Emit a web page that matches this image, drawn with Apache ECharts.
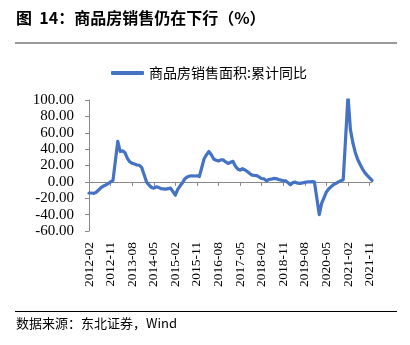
<!DOCTYPE html>
<html><head><meta charset="utf-8">
<script src="https://cdn.jsdelivr.net/npm/echarts@6/dist/echarts.min.js"></script>
<style>html,body{margin:0;padding:0;background:#fff}#c{width:410px;height:345px}</style>
</head><body><div id="c"></div>
<script>
// Monthly cumulative YoY (%) of commercial housing sales area; January has no release (null)
const v2012 = [-13.6, -13.6, -14.0, -12.6, -10.0, -7.0, -5.1, -3.8, -2.0, 0.0, 1.8]; // Feb-Dec
const v2013 = [null, 49.5, 37.1, 38.0, 35.6, 28.7, 24.6, 22.7, 21.8, 20.6, 20.3, 17.3];
const v2014 = [null, -0.1, -3.8, -6.6, -7.8, -6.0, -6.7, -8.3, -8.6, -8.9, -8.2, -7.6];
const v2015 = [null, -16.3, -9.2, -4.8, -1.0, 3.9, 6.1, 7.2, 7.5, 7.2, 7.4, 6.5];
const v2016 = [null, 28.2, 33.1, 37.1, 33.2, 27.9, 26.4, 25.5, 26.9, 26.8, 24.3, 22.5];
const v2017 = [null, 25.1, 19.5, 15.7, 14.3, 16.1, 14.7, 12.7, 10.3, 8.2, 7.9, 7.7];
const v2018 = [null, 4.1, 3.6, 1.3, 2.9, 3.3, 4.2, 4.0, 2.9, 2.2, 1.4, 1.3];
const v2019 = [null, -3.6, -0.9, -0.3, -1.6, -1.8, -1.3, -0.6, -0.1, 0.1, 0.2, -0.1];
const v2020 = [null, -39.9, -26.3, -19.3, -12.3, -8.4, -5.8, -3.3, -1.8, 0.0, 1.3, 2.6];
const v2021 = [null, 104.9, 63.8, 48.1, 36.3, 27.7, 21.5, 15.9, 11.3, 7.9, 4.8, 1.9];
const seriesName = '商品房销售面积:累计同比';
const yTicks = [-60, -40, -20, 0, 20, 40, 60, 80, 100];

const values = [].concat(v2012, v2013, v2014, v2015, v2016, v2017, v2018, v2019, v2020, v2021);
const categories = [];
for (let y = 2012; y <= 2021; y++) {
  for (let m = (y === 2012 ? 2 : 1); m <= 12; m++) categories.push(y + '-' + String(m).padStart(2, '0'));
}

const serif = 'serif';
const cjk = 'Noto Sans CJK SC';
const chart = echarts.init(document.getElementById('c'), null, {renderer: 'canvas'});
chart.setOption({
  animation: false,
  backgroundColor: '#fff',
  grid: {left: 89, right: 38, top: 100, bottom: 114, containLabel: false},
  legend: {
    left: 106, top: 61, icon: 'roundRect', itemWidth: 33, itemHeight: 4, itemGap: 10,
    textStyle: {fontFamily: cjk, fontSize: 14, color: '#000'},
    data: [seriesName]
  },
  xAxis: [{
    type: 'category', data: categories, boundaryGap: false, position: 'bottom',
    axisLine: {show: false, onZero: false}, axisTick: {show: false},
    axisLabel: {interval: 8, rotate: 90, margin: 11, fontFamily: serif, fontSize: 13.5, color: '#000'}
  }, {
    type: 'category', data: categories, boundaryGap: false, position: 'bottom',
    axisLine: {show: true, onZero: true, lineStyle: {color: '#888', width: 1}},
    axisTick: {show: true, interval: 8, length: 4, lineStyle: {color: '#888'}},
    axisLabel: {show: false}
  }],
  yAxis: {
    type: 'value', min: yTicks[0], max: yTicks[yTicks.length - 1], interval: 20,
    axisLine: {show: true, lineStyle: {color: '#888', width: 1}},
    axisTick: {show: true, length: 4, lineStyle: {color: '#888'}},
    splitLine: {show: false},
    axisLabel: {margin: 15, fontFamily: serif, fontSize: 15, color: '#000', formatter: v => v.toFixed(2)}
  },
  series: [{
    name: seriesName, type: 'line', data: values, xAxisIndex: 0, connectNulls: true,
    showSymbol: false, symbol: 'none', clip: true,
    lineStyle: {color: '#4472C4', width: 3.2, cap: 'round', join: 'round'},
    itemStyle: {color: '#4472C4'}
  }],
  graphic: [
    {type: 'text', left: 16, top: 10, style: {text: '图  14：商品房销售仍在下行（%）', font: 'bold 16px "Noto Sans CJK SC"', fill: '#000'}},
    {type: 'line', shape: {x1: 15, y1: 43, x2: 397, y2: 43}, style: {stroke: '#999', lineWidth: 2}},
    {type: 'line', shape: {x1: 15, y1: 311.5, x2: 397, y2: 311.5}, style: {stroke: '#000', lineWidth: 1}},
    {type: 'text', left: 16, top: 317, style: {text: '数据来源：东北证券，Wind', font: '13px "Noto Sans CJK SC"', fill: '#000'}}
  ]
});
</script></body></html>
